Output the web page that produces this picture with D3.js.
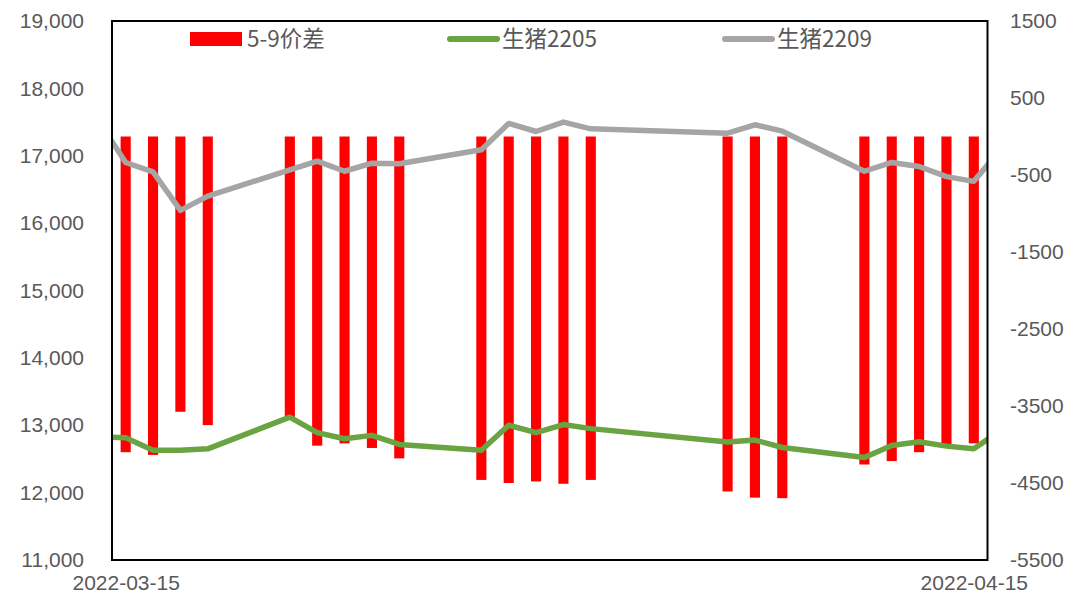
<!DOCTYPE html>
<html>
<head>
<meta charset="utf-8">
<script src="https://cdn.jsdelivr.net/npm/d3@7"></script>
<style>
  html, body { margin: 0; padding: 0; background: #fff; }
  svg { display: block; }
</style>
</head>
<body>
<svg id="chart" width="1069" height="603"></svg>
<script>
// ---------------- DATA ----------------
// Line series (trading days; first and last points lie just outside the visible date range)
const lineDates = ["2022-03-14","2022-03-15","2022-03-16","2022-03-17","2022-03-18",
  "2022-03-21","2022-03-22","2022-03-23","2022-03-24","2022-03-25",
  "2022-03-28","2022-03-29","2022-03-30","2022-03-31","2022-04-01",
  "2022-04-06","2022-04-07","2022-04-08",
  "2022-04-11","2022-04-12","2022-04-13","2022-04-14","2022-04-15","2022-04-18"];
const lh2205 = [12830, 12815, 12630, 12630, 12650,
  13120, 12890, 12800, 12850, 12715,
  12630, 13000, 12890, 13010, 12950,
  12750, 12780, 12670,
  12520, 12700, 12755, 12690, 12650, 13490];
const lh2209 = [17520, 16900, 16760, 16190, 16400,
  16790, 16920, 16770, 16890, 16880,
  17090, 17480, 17360, 17500, 17400,
  17335, 17460, 17365,
  16770, 16900, 16840, 16690, 16620, 18080];

// Bar series: 5-9 spread
const barDates = ["2022-03-15","2022-03-16","2022-03-17","2022-03-18",
  "2022-03-21","2022-03-22","2022-03-23","2022-03-24","2022-03-25",
  "2022-03-28","2022-03-29","2022-03-30","2022-03-31","2022-04-01",
  "2022-04-06","2022-04-07","2022-04-08",
  "2022-04-11","2022-04-12","2022-04-13","2022-04-14","2022-04-15"];
const spread59 = [-4100, -4135, -3575, -3748,
  -3670, -4015, -3985, -4045, -4180,
  -4460, -4500, -4480, -4510, -4460,
  -4610, -4690, -4697,
  -4260, -4215, -4100, -3995, -3985];

const seriesNames = ["5-9价差", "生猪2205", "生猪2209"];
const xRange = ["2022-03-15", "2022-04-15"];
const xTickLabels = ["2022-03-15", "2022-04-15"];
const leftTicks = [11000, 12000, 13000, 14000, 15000, 16000, 17000, 18000, 19000];
const rightTicks = [-5500, -4500, -3500, -2500, -1500, -500, 500, 1500];

// ---------------- LAYOUT ----------------
const W = 1069, H = 603;
const plot = { left: 112, right: 987.5, top: 21, bottom: 560 };
const colors = { bar: "#FF0000", l2205: "#6AA342", l2209: "#A5A5A5", text: "#595959" };

const parse = d3.utcParse("%Y-%m-%d");
const DAY = 864e5;
const x0 = parse(xRange[0]), x1 = parse(xRange[1]);

const x = d3.scaleUtc()
  .domain([new Date(+x0 - DAY / 2), new Date(+x1 + DAY / 2)])
  .range([plot.left, plot.right]);
const yL = d3.scaleLinear().domain([leftTicks[0], leftTicks[leftTicks.length - 1]]).range([plot.bottom, plot.top]);
const yR = d3.scaleLinear().domain([rightTicks[0], rightTicks[rightTicks.length - 1]]).range([plot.bottom, plot.top]);

const svg = d3.select("#chart");
const dayW = x(new Date(+x0 + DAY)) - x(x0);
const barW = dayW * 0.37;

svg.append("defs").append("clipPath").attr("id", "clip")
  .append("rect")
  .attr("x", plot.left).attr("y", plot.top)
  .attr("width", plot.right - plot.left).attr("height", plot.bottom - plot.top);

// Bars
const bars = barDates.map((d, i) => ({ date: parse(d), v: spread59[i] }));
svg.append("g").attr("clip-path", "url(#clip)")
  .selectAll("rect").data(bars).join("rect")
  .attr("x", d => x(d.date) - barW / 2)
  .attr("width", barW)
  .attr("y", d => yR(Math.max(0, d.v)))
  .attr("height", d => Math.abs(yR(d.v) - yR(0)))
  .attr("fill", colors.bar);

// Lines
const lineGen = d3.line().x(d => x(d.date)).y(d => yL(d.v));
const mk = arr => lineDates.map((d, i) => ({ date: parse(d), v: arr[i] }));
const gLines = svg.append("g").attr("clip-path", "url(#clip)");
gLines.append("path").datum(mk(lh2205))
  .attr("d", lineGen).attr("fill", "none")
  .attr("stroke", colors.l2205).attr("stroke-width", 5.5)
  .attr("stroke-linejoin", "round").attr("stroke-linecap", "round");
gLines.append("path").datum(mk(lh2209))
  .attr("d", lineGen).attr("fill", "none")
  .attr("stroke", colors.l2209).attr("stroke-width", 5.5)
  .attr("stroke-linejoin", "round").attr("stroke-linecap", "round");

// Plot border
svg.append("rect")
  .attr("x", plot.left).attr("y", plot.top)
  .attr("width", plot.right - plot.left).attr("height", plot.bottom - plot.top)
  .attr("fill", "none").attr("stroke", "#000").attr("stroke-width", 2);

// Axes
const fontAxis = "'Liberation Sans', Arial, sans-serif";
const styleAxis = g => {
  g.select(".domain").remove();
  g.selectAll("line").remove();
  g.selectAll("text").attr("fill", colors.text)
    .style("font-family", fontAxis).style("font-size", "21px");
};

svg.append("g")
  .attr("transform", `translate(${plot.left},0)`)
  .call(d3.axisLeft(yL).tickValues(leftTicks).tickFormat(d3.format(",")).tickSize(0).tickPadding(28))
  .call(styleAxis);

svg.append("g")
  .attr("transform", `translate(${plot.right},0)`)
  .call(d3.axisRight(yR).tickValues(rightTicks).tickFormat(d => String(d)).tickSize(0).tickPadding(22.5))
  .call(styleAxis);

svg.append("g")
  .attr("transform", `translate(0,${plot.bottom})`)
  .call(d3.axisBottom(x).tickValues(xTickLabels.map(parse)).tickFormat(d3.utcFormat("%Y-%m-%d")).tickSize(0).tickPadding(15))
  .call(styleAxis);

// Legend
const legY = 39;
const fontLeg = "'Noto Sans CJK SC', 'Noto Sans', sans-serif";
const legItems = [
  { name: seriesNames[0], type: "rect", color: colors.bar, mx: 190, tx: 247 },
  { name: seriesNames[1], type: "line", color: colors.l2205, mx: 447, tx: 502 },
  { name: seriesNames[2], type: "line", color: colors.l2209, mx: 722, tx: 777 }
];
const leg = svg.append("g");
legItems.forEach(it => {
  if (it.type === "rect") {
    leg.append("rect").attr("x", it.mx).attr("y", legY - 7).attr("width", 52).attr("height", 14).attr("fill", it.color);
  } else {
    leg.append("line").attr("x1", it.mx + 3).attr("x2", it.mx + 50).attr("y1", legY).attr("y2", legY)
      .attr("stroke", it.color).attr("stroke-width", 6).attr("stroke-linecap", "round");
  }
  leg.append("text").attr("x", it.tx).attr("y", legY).attr("dy", "0.35em")
    .attr("fill", colors.text).style("font-family", fontLeg).style("font-size", "22.5px")
    .text(it.name);
});
</script>
</body>
</html>
